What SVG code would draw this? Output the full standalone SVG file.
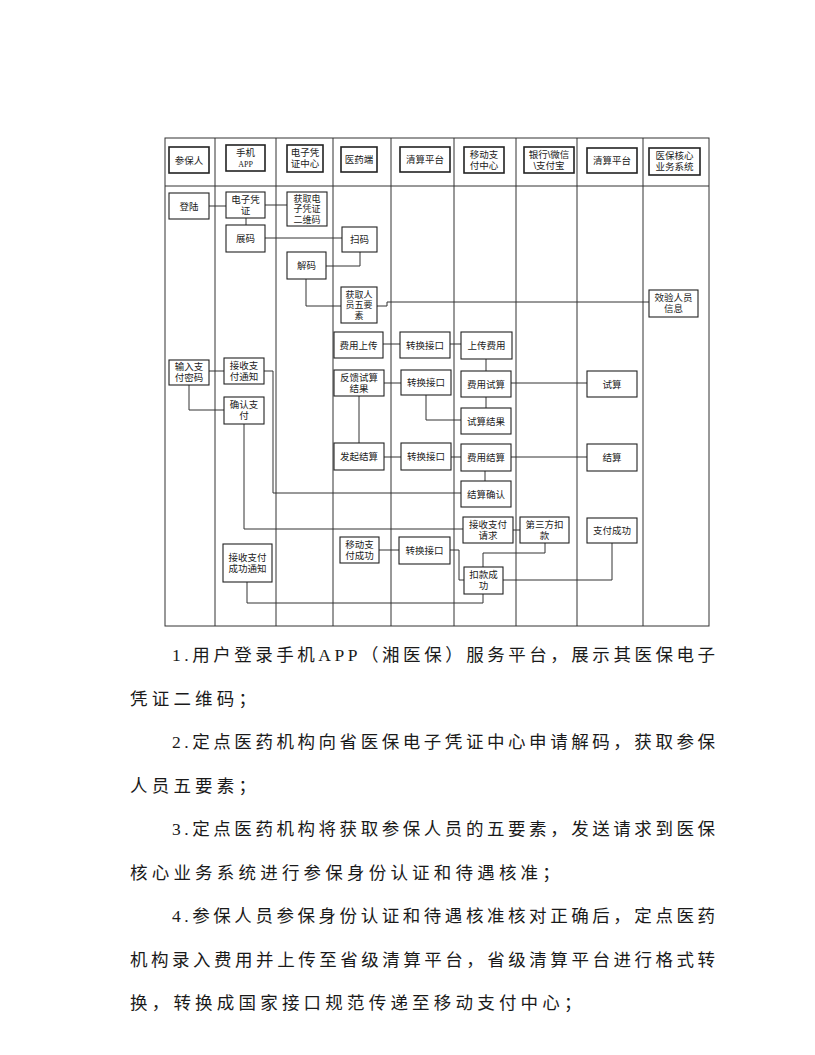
<svg xmlns="http://www.w3.org/2000/svg" width="815" height="1055" viewBox="0 0 815 1055">
<style>
.bg{fill:#fff}
.grid{fill:none;stroke:#333;stroke-width:1}
.box{fill:#fff;stroke:#222;stroke-width:1.1}
.hbox{fill:#fff;stroke:#222;stroke-width:1.6}
.t{font-family:"Liberation Sans","Noto Sans CJK SC",sans-serif;font-size:9.5px;text-anchor:middle;fill:#222}
.s{font-size:9px}
.ln{fill:none;stroke:#333;stroke-width:1}
.p{font-family:"Liberation Serif","Noto Sans CJK SC",serif;font-size:17.5px;fill:#1a1a1a}
</style>
<rect class="bg" x="0" y="0" width="815" height="1055"/>
<g id="grid">
<rect class="grid" x="165" y="138" width="544" height="488"/>
<path class="grid" d="M165,186H709 M215,138V626 M276,138V626 M333,138V626 M391,138V626 M454,138V626 M516,138V626 M577,138V626 M643,138V626"/>
</g>
<g id="connectors">
<path class="ln" d="M209,206H226"/>
<path class="ln" d="M265,205H287"/>
<path class="ln" d="M246,218V225"/>
<path class="ln" d="M265,238H342"/>
<path class="ln" d="M360,252V266H326"/>
<path class="ln" d="M306,279V306H341"/>
<path class="ln" d="M377,306H387V302H649"/>
<path class="ln" d="M209,371H224"/>
<path class="ln" d="M264,371H273V493H461"/>
<path class="ln" d="M189,385V410H224"/>
<path class="ln" d="M244,424V529H463"/>
<path class="ln" d="M383,344H400"/>
<path class="ln" d="M450,344H461"/>
<path class="ln" d="M486,359V371"/>
<path class="ln" d="M384,383H401"/>
<path class="ln" d="M426,395V420H461"/>
<path class="ln" d="M486,397V408"/>
<path class="ln" d="M511,383H587"/>
<path class="ln" d="M359,396V443"/>
<path class="ln" d="M384,457H401"/>
<path class="ln" d="M451,457H461"/>
<path class="ln" d="M511,457H587"/>
<path class="ln" d="M485,471V481"/>
<path class="ln" d="M513,530H520"/>
<path class="ln" d="M545,543V553H483V567"/>
<path class="ln" d="M503,580H612V543"/>
<path class="ln" d="M483,594V603H247V582"/>
<path class="ln" d="M379,550H399"/>
<path class="ln" d="M450,550H459V580H464"/>
</g>
<g id="h1"><rect class="hbox" x="169" y="147" width="40" height="26"/><text class="t" x="189" y="163.5">参保人</text></g>
<g id="h2"><rect class="hbox" x="226" y="145" width="39" height="26"/><text class="t" x="245.5" y="155.8">手机</text><text class="t" x="245.5" y="166.8" style="font-size:8px;font-family:'Liberation Serif',serif">APP</text></g>
<g id="h3"><rect class="hbox" x="287" y="145" width="36" height="27"/><text class="t" x="305" y="156.3">电子凭</text><text class="t" x="305" y="167.3">证中心</text></g>
<g id="h4"><rect class="hbox" x="341" y="147" width="36" height="25"/><text class="t" x="359" y="163">医药端</text></g>
<g id="h5"><rect class="hbox" x="400" y="147" width="50" height="25"/><text class="t" x="425" y="163">清算平台</text></g>
<g id="h6"><rect class="hbox" x="464" y="147" width="40" height="26"/><text class="t" x="484" y="157.8">移动支</text><text class="t" x="484" y="168.8">付中心</text></g>
<g id="h7"><rect class="hbox" x="524" y="147" width="50" height="26"/><text class="t" x="549" y="157.8">银行\微信</text><text class="t" x="549" y="168.8">\支付宝</text></g>
<g id="h8"><rect class="hbox" x="587" y="148" width="50" height="25"/><text class="t" x="612" y="164">清算平台</text></g>
<g id="h9"><rect class="hbox" x="649" y="148" width="51" height="27"/><text class="t" x="674.5" y="159.3">医保核心</text><text class="t" x="674.5" y="170.3">业务系统</text></g>
<g id="n1"><rect class="box" x="169" y="193" width="40" height="26"/><text class="t" x="189" y="209.5">登陆</text></g>
<g id="n2"><rect class="box" x="226" y="192" width="39" height="26"/><text class="t" x="245.5" y="202.8">电子凭</text><text class="t" x="245.5" y="213.8">证</text></g>
<g id="n3"><rect class="box" x="287" y="192" width="40" height="34"/><text class="t s" x="307" y="201.8">获取电</text><text class="t s" x="307" y="212.3">子凭证</text><text class="t s" x="307" y="222.8">二维码</text></g>
<g id="n4"><rect class="box" x="226" y="225" width="39" height="27"/><text class="t" x="245.5" y="242">展码</text></g>
<g id="n5"><rect class="box" x="342" y="227" width="35" height="25"/><text class="t" x="359.5" y="243">扫码</text></g>
<g id="n6"><rect class="box" x="287" y="252" width="39" height="27"/><text class="t" x="306.5" y="269">解码</text></g>
<g id="n7"><rect class="box" x="341" y="287" width="36" height="36"/><text class="t s" x="359" y="297.8">获取人</text><text class="t s" x="359" y="308.3">员五要</text><text class="t s" x="359" y="318.8">素</text></g>
<g id="n8"><rect class="box" x="649" y="290" width="49" height="27"/><text class="t" x="673.5" y="301.3">效验人员</text><text class="t" x="673.5" y="312.3">信息</text></g>
<g id="n9"><rect class="box" x="334" y="332" width="49" height="26"/><text class="t" x="358.5" y="348.5">费用上传</text></g>
<g id="n10"><rect class="box" x="400" y="332" width="50" height="26"/><text class="t" x="425" y="348.5">转换接口</text></g>
<g id="n11"><rect class="box" x="461" y="332" width="51" height="27"/><text class="t" x="486.5" y="349">上传费用</text></g>
<g id="n12"><rect class="box" x="169" y="360" width="40" height="25"/><text class="t" x="189" y="370.3">输入支</text><text class="t" x="189" y="381.3">付密码</text></g>
<g id="n13"><rect class="box" x="224" y="358" width="40" height="26"/><text class="t" x="244" y="368.8">接收支</text><text class="t" x="244" y="379.8">付通知</text></g>
<g id="n14"><rect class="box" x="334" y="370" width="50" height="26"/><text class="t" x="359" y="380.8">反馈试算</text><text class="t" x="359" y="391.8">结果</text></g>
<g id="n15"><rect class="box" x="401" y="370" width="50" height="25"/><text class="t" x="426" y="386">转换接口</text></g>
<g id="n16"><rect class="box" x="461" y="371" width="50" height="26"/><text class="t" x="486" y="387.5">费用试算</text></g>
<g id="n17"><rect class="box" x="587" y="371" width="50" height="26"/><text class="t" x="612" y="387.5">试算</text></g>
<g id="n18"><rect class="box" x="224" y="397" width="40" height="27"/><text class="t" x="244" y="408.3">确认支</text><text class="t" x="244" y="419.3">付</text></g>
<g id="n19"><rect class="box" x="461" y="408" width="50" height="26"/><text class="t" x="486" y="424.5">试算结果</text></g>
<g id="n20"><rect class="box" x="334" y="443" width="50" height="27"/><text class="t" x="359" y="460">发起结算</text></g>
<g id="n21"><rect class="box" x="401" y="443" width="50" height="27"/><text class="t" x="426" y="460">转换接口</text></g>
<g id="n22"><rect class="box" x="461" y="444" width="50" height="27"/><text class="t" x="486" y="461">费用结算</text></g>
<g id="n23"><rect class="box" x="587" y="444" width="50" height="27"/><text class="t" x="612" y="461">结算</text></g>
<g id="n24"><rect class="box" x="461" y="481" width="50" height="26"/><text class="t" x="486" y="497.5">结算确认</text></g>
<g id="n25"><rect class="box" x="463" y="517" width="50" height="26"/><text class="t" x="488" y="527.8">接收支付</text><text class="t" x="488" y="538.8">请求</text></g>
<g id="n26"><rect class="box" x="520" y="517" width="49" height="26"/><text class="t" x="544.5" y="527.8">第三方扣</text><text class="t" x="544.5" y="538.8">款</text></g>
<g id="n27"><rect class="box" x="587" y="518" width="50" height="25"/><text class="t" x="612" y="534">支付成功</text></g>
<g id="n28"><rect class="box" x="340" y="537" width="39" height="26"/><text class="t" x="359.5" y="547.8">移动支</text><text class="t" x="359.5" y="558.8">付成功</text></g>
<g id="n29"><rect class="box" x="399" y="537" width="51" height="27"/><text class="t" x="424.5" y="554">转换接口</text></g>
<g id="n30"><rect class="box" x="223" y="544" width="49" height="38"/><text class="t" x="247.5" y="560.8">接收支付</text><text class="t" x="247.5" y="571.8">成功通知</text></g>
<g id="n31"><rect class="box" x="464" y="567" width="39" height="27"/><text class="t" x="483.5" y="578.3">扣款成</text><text class="t" x="483.5" y="589.3">功</text></g>
<g id="text">
<text class="p" x="172" y="661" textLength="543" lengthAdjust="spacing">1.用户登录手机APP（湘医保）服务平台，展示其医保电子</text>
<text class="p" x="130" y="704.5" style="letter-spacing:4.2px">凭证二维码；</text>
<text class="p" x="172" y="748" textLength="543" lengthAdjust="spacing">2.定点医药机构向省医保电子凭证中心申请解码，获取参保</text>
<text class="p" x="130" y="791.5" style="letter-spacing:4.2px">人员五要素；</text>
<text class="p" x="172" y="835" textLength="543" lengthAdjust="spacing">3.定点医药机构将获取参保人员的五要素，发送请求到医保</text>
<text class="p" x="130" y="878.5" style="letter-spacing:4.2px">核心业务系统进行参保身份认证和待遇核准；</text>
<text class="p" x="172" y="922" textLength="543" lengthAdjust="spacing">4.参保人员参保身份认证和待遇核准核对正确后，定点医药</text>
<text class="p" x="130" y="965.5" textLength="585" lengthAdjust="spacing">机构录入费用并上传至省级清算平台，省级清算平台进行格式转</text>
<text class="p" x="130" y="1009" style="letter-spacing:4.2px">换，转换成国家接口规范传递至移动支付中心；</text>
</g>
</svg>
